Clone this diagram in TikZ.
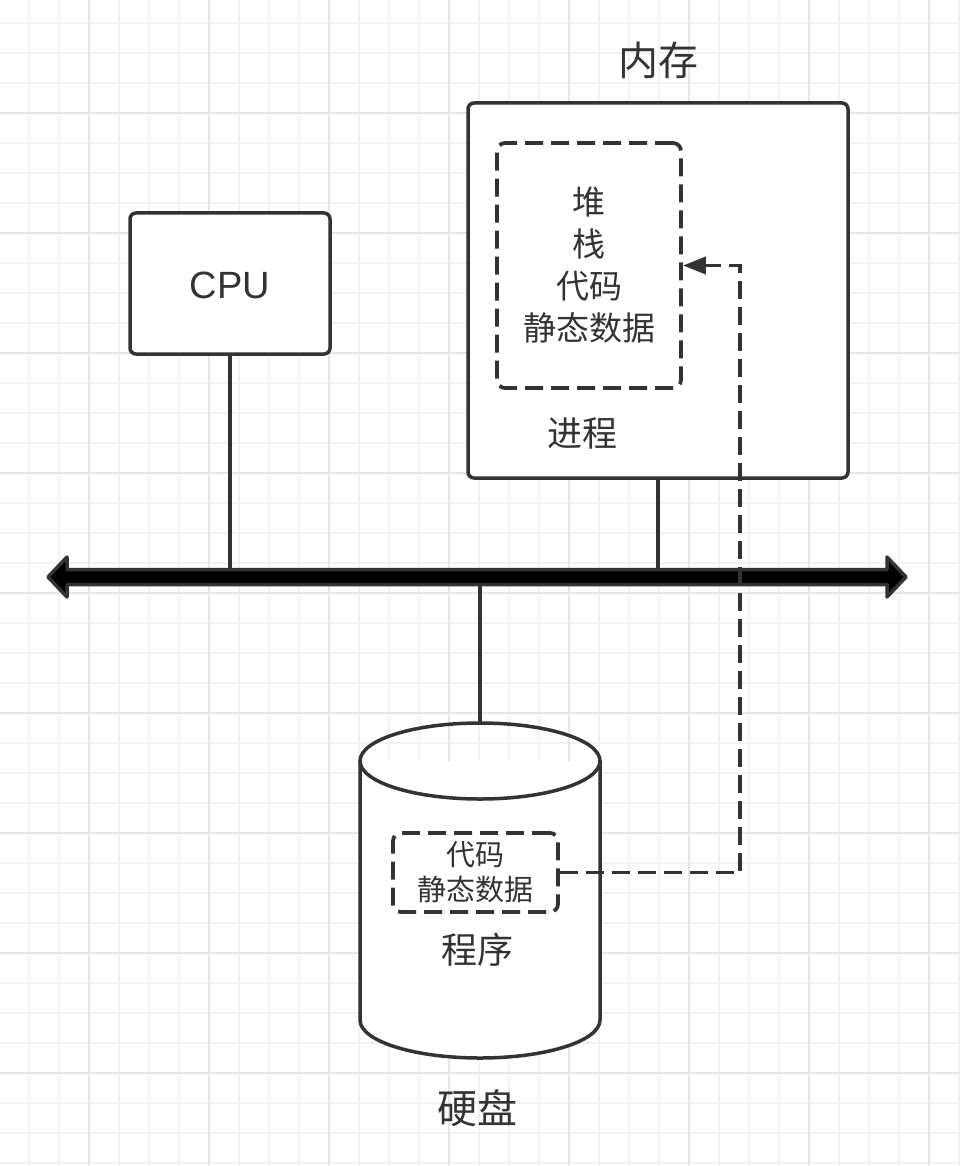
\documentclass[tikz,border=0pt]{standalone}
\usepackage{fontspec}
\setmainfont{Liberation Sans}
\newfontfamily\cjk{Noto Sans CJK SC}
\usetikzlibrary{arrows.meta}
\definecolor{dk}{HTML}{333333}
\definecolor{gminor}{HTML}{F2F2F2}
\definecolor{gmajor}{HTML}{E6E6E6}
\tikzset{
  box/.style={draw=dk, line width=3.5pt, fill=white, rounded corners=6pt, inner sep=0pt},
  dbox/.style={draw=dk, line width=3.8pt, fill=white, rounded corners=8pt, inner sep=0pt, dash pattern=on 18pt off 8pt},
  link/.style={draw=dk, line width=3.5pt},
  dlink/.style={draw=dk, line width=3.8pt, dash pattern=on 18pt off 8pt},
  lbl/.style={text=dk, inner sep=0pt, align=center},
}
\begin{document}
\begin{tikzpicture}[x=1pt,y=-1pt]
\useasboundingbox (0,0) rectangle (960,1166);
\fill[white] (0,0) rectangle (960,1166);
% grid
\foreach \i in {0,...,31} { \draw[gminor, line width=1.5pt] (29+30*\i,0) -- (29+30*\i,1166); }
\foreach \i in {0,...,38} { \draw[gminor, line width=1.5pt] (0,23+30*\i) -- (960,23+30*\i); }
\foreach \x in {89,209,...,929} { \draw[gmajor, line width=1.5pt] (\x,0) -- (\x,1166); }
\foreach \y in {113,233,...,1073} { \draw[gmajor, line width=1.5pt] (0,\y) -- (960,\y); }

\coordinate (bus) at (480,577);
\coordinate (disktop) at (480,723);
\coordinate (turn) at (740,0);

% boxes
\node[box, minimum width=200pt, minimum height=141pt] (cpu) at (230,283.5) {};
\node[lbl, font=\fontsize{38}{46}\selectfont] (cputxt) at (230,285) {CPU};
\node[box, minimum width=380pt, minimum height=375pt] (mem) at (658,290.5) {};
\node[lbl, font=\cjk\fontsize{40}{48}\selectfont] (memlbl) at (658,60) {内存};
\node[dbox, minimum width=184pt, minimum height=245pt, font=\cjk\fontsize{33}{42}\selectfont, text=dk, align=center] (inner) at (589,265.5) {堆\\栈\\代码\\静态数据};
\node[lbl, font=\cjk\fontsize{35}{42}\selectfont] (proc) at (582,433) {进程};

% links to bus
\draw[link] (cpu.south) -- (cpu.south |- bus);
\draw[link] (mem.south) -- (mem.south |- bus);
\draw[link] (disktop) -- (disktop |- bus);

% bus
\filldraw[fill=black, draw=dk, line width=3.5pt, line join=round]
  (48,577) -- (67,557) -- (67,569.5) -- (887,569.5) -- (887,557) -- (906,577)
  -- (887,597) -- (887,584.5) -- (67,584.5) -- (67,597) -- cycle;

% disk
\filldraw[fill=white, draw=dk, line width=3.5pt]
  (360,761) -- (360,1020) arc[start angle=180, end angle=0, x radius=120, y radius=38] -- (600,761);
\draw[dk, line width=3.5pt] (480,761) ellipse [x radius=120, y radius=38];
\node[dbox, minimum width=165pt, minimum height=79pt, font=\cjk\fontsize{29}{35}\selectfont, text=dk, align=center] (small) at (475.5,872.5) {代码\\静态数据};
\node[lbl, font=\cjk\fontsize{36}{42}\selectfont] (prog) at (477,950) {程序};
\node[lbl, font=\cjk\fontsize{40}{48}\selectfont] (disklbl) at (477,1108) {硬盘};

% dashed load arrow
\draw[dlink, -{Triangle[length=23pt, width=17pt]}] (small.east) -- (small.east -| turn) |- (inner.east);
\end{tikzpicture}
\end{document}
